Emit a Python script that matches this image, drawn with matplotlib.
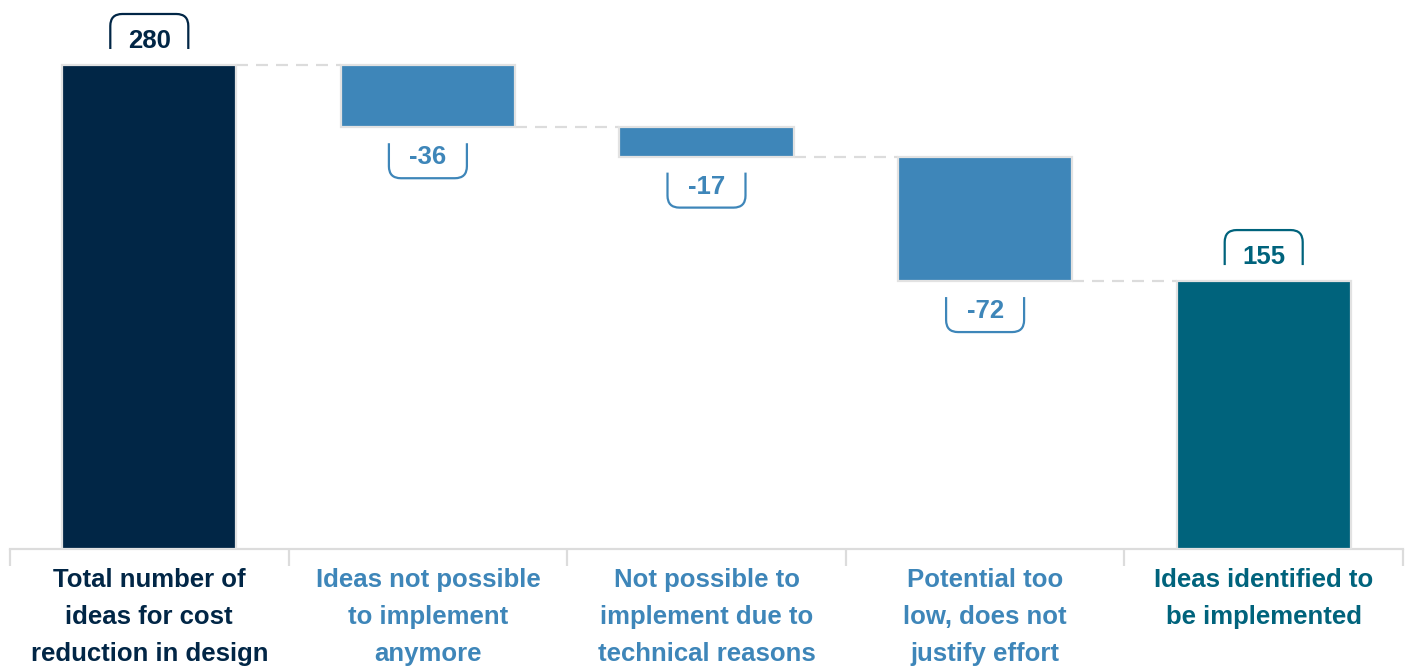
import numpy as np
import matplotlib.pyplot as plt
from matplotlib.path import Path
from matplotlib.patches import PathPatch
from matplotlib.transforms import Affine2D, ScaledTranslation

plt.rcParams['font.family'] = ['Liberation Sans', 'DejaVu Sans']

categories = ["Total number of\nideas for cost\nreduction in design",
              "Ideas not possible\nto implement\nanymore",
              "Not possible to\nimplement due to\ntechnical reasons",
              "Potential too\nlow, does not\njustify effort",
              "Ideas identified to\nbe implemented"]
values = [280, -36, -17, -72, 155]
kinds = ["total", "delta", "delta", "delta", "total"]

navy = "#012646"
blue = "#3e86b9"
teal = "#00637c"
grey = "#e2e2e2"
bar_colors = [navy, blue, blue, blue, teal]

fig = plt.figure(figsize=(14.08, 6.66), dpi=100)
ax = fig.add_axes([10/1408, 117/666, 1393/1408, 549/666])
px_per_unit = 1.7286
ax.set_xlim(0, 5)
ax.set_ylim(0, 549/px_per_unit)

# waterfall geometry
bottoms, heights = [], []
running = 0
for v, k in zip(values, kinds):
    if k == "total":
        bottoms.append(0)
        heights.append(v)
        running = v
    else:
        bottoms.append(running + v)
        heights.append(-v)
        running = running + v

xs = np.arange(len(values)) + 0.5
bw = 0.625
ax.bar(xs, heights, bottom=bottoms, width=bw, color=bar_colors,
       edgecolor=grey, linewidth=1.6, zorder=3)

# dashed connectors
for i in range(len(values) - 1):
    if kinds[i] == "delta":
        level = bottoms[i]
    else:
        level = bottoms[i] + heights[i]
    ax.plot([xs[i] + bw/2, xs[i+1] - bw/2], [level, level], color="#dcdcdc",
            lw=1.6, dashes=(5.4, 3.6), zorder=2)


def bracket(x, y, up, color):
    w, h, g, r = 78, 35, 16, 12
    s = 1 if up else -1
    verts = [(-w/2, s*g), (-w/2, s*(g+h-r)), (-w/2, s*(g+h)), (-w/2+r, s*(g+h)),
             (w/2-r, s*(g+h)), (w/2, s*(g+h)), (w/2, s*(g+h-r)), (w/2, s*g)]
    codes = [Path.MOVETO, Path.LINETO, Path.CURVE3, Path.CURVE3,
             Path.LINETO, Path.CURVE3, Path.CURVE3, Path.LINETO]
    tr = Affine2D().scale(fig.dpi/100) + ScaledTranslation(x, y, ax.transData)
    ax.add_patch(PathPatch(Path(verts, codes), fill=False, edgecolor=color,
                           lw=1.6, transform=tr, clip_on=False, zorder=4))


for i, v in enumerate(values):
    if v >= 0:
        y = bottoms[i] + heights[i]
        bracket(xs[i], y, True, bar_colors[i])
        off = 17
    else:
        y = bottoms[i]
        bracket(xs[i], y, False, bar_colors[i])
        off = -37
    ax.annotate(str(v), xy=(xs[i], y), xytext=(0, off*0.72), textcoords='offset points',
                ha='center', va='baseline', fontsize=18.5, fontweight='bold',
                color=bar_colors[i], annotation_clip=False)

# axis
for s in ["top", "left", "right"]:
    ax.spines[s].set_visible(False)
ax.spines["bottom"].set_color("#dcdcdc")
ax.spines["bottom"].set_linewidth(1.6)
ax.set_yticks([])
ax.set_xticks(np.arange(len(values) + 1))
ax.set_xticklabels([])
ax.tick_params(axis='x', length=12, width=1.6, color="#dcdcdc", direction='out')

for i, c in enumerate(categories):
    ax.annotate(c, xy=(xs[i], 0), xytext=(0, -19*0.72), textcoords='offset points',
                ha='center', va='top', fontsize=18.5, fontweight='bold',
                color=bar_colors[i], linespacing=1.675, annotation_clip=False)

fig.savefig("out.png", dpi=100)
